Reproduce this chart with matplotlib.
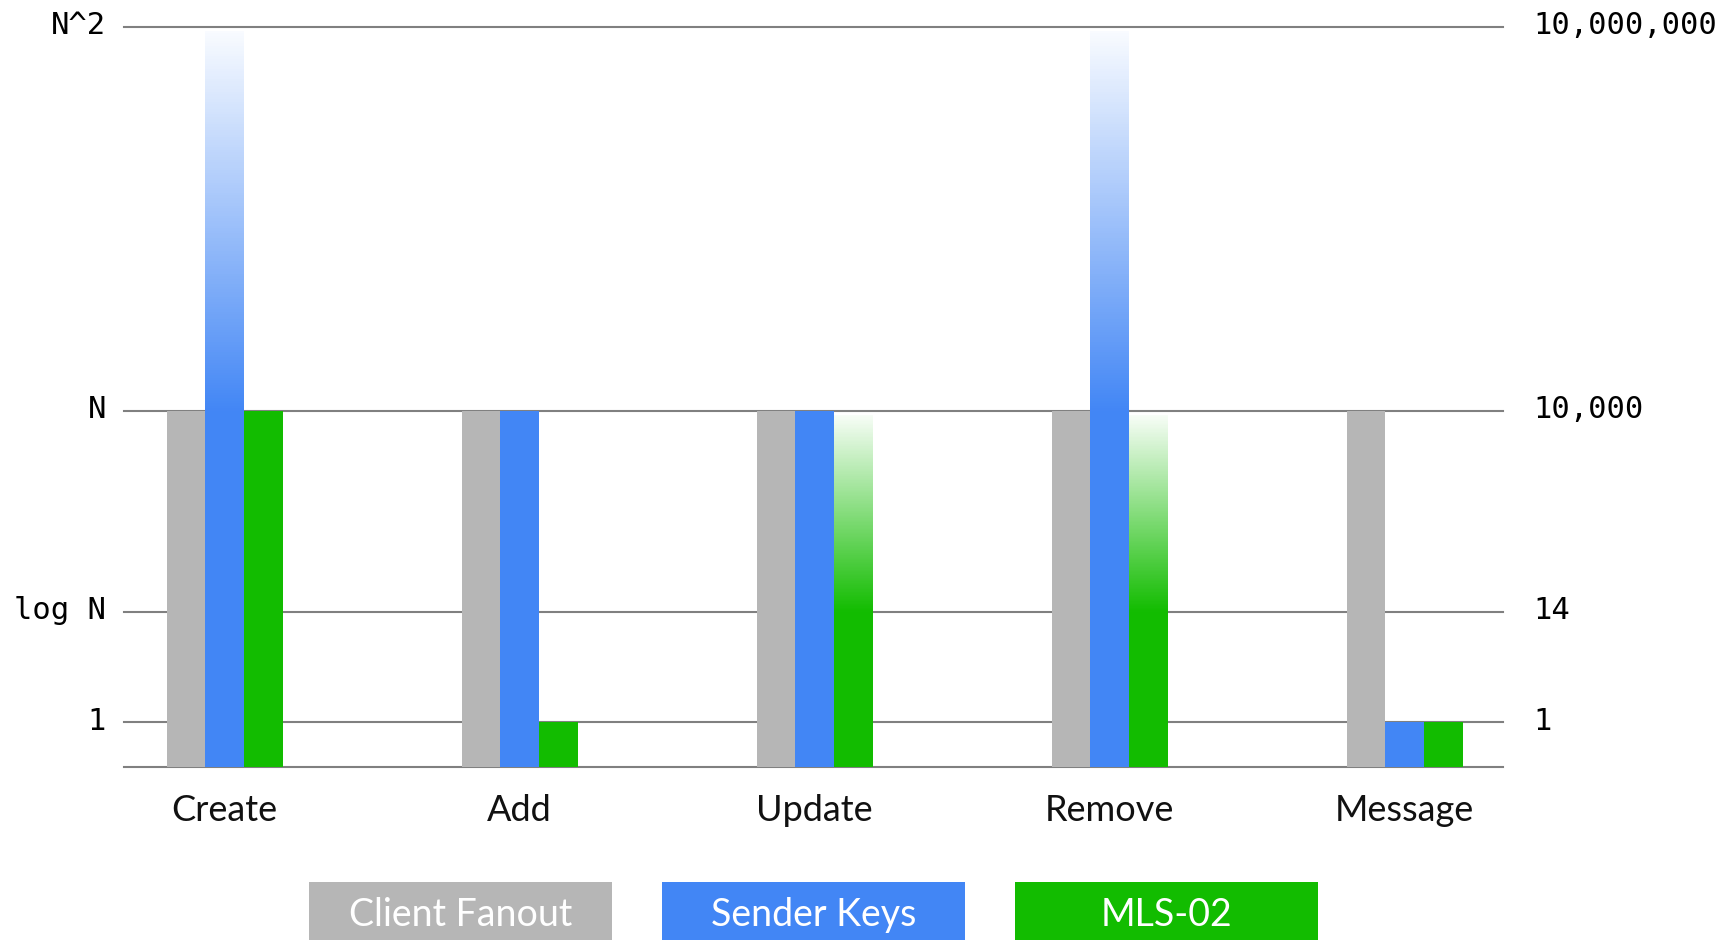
import numpy as np
import matplotlib.pyplot as plt
from matplotlib.patches import Rectangle
from matplotlib.colors import to_rgb
from matplotlib.transforms import ScaledTranslation

# data
categories = ['Create', 'Add', 'Update', 'Remove', 'Message']
series_names = ['Client Fanout', 'Sender Keys', 'MLS-02']
# solid part of each bar, and the value the faded part reaches
fanout_solid = [1e4, 1e4, 1e4, 1e4, 1e4]
fanout_top = [1e4, 1e4, 1e4, 1e4, 1e4]
sender_solid = [1e4, 1e4, 1e4, 1e4, 1]
sender_top = [1e7, 1e4, 1e4, 1e7, 1]
mls_solid = [1e4, 1, 14, 14, 1]
mls_top = [1e4, 1, 1e4, 1e4, 1]

level_values = [1, 14, 1e4, 1e7]
left_labels = ['1', 'log N', 'N', 'N^2']
right_labels = ['1', '14', '10,000', '10,000,000']

# colours
gray = '#b6b6b6'
blue = '#4286f5'
green = '#12bc00'
gridcol = '#808080'

W, H = 1723, 940

# piecewise axis: each labelled level sits at a fixed height
log_knots = [-1, 0, np.log10(14), 4, 7]
pix_knots = [0, 45, 155.6, 356.6, 740.6]


def fwd(v):
    v = np.clip(np.asarray(v, dtype=float), 1e-6, None)
    return np.interp(np.log10(v), log_knots, pix_knots)


def inv(p):
    return 10 ** np.interp(np.asarray(p, dtype=float), pix_knots, log_knots)


base = 0.1

fig = plt.figure(figsize=(W / 100, H / 100), dpi=100)
fig.patch.set_facecolor('white')
ax = fig.add_axes([124 / W, (H - 767.3) / H, (1503 - 124) / W, 740.6 / H])
ax.set_yscale('function', functions=(fwd, inv))
ax.set_ylim(base, 1e7)
ax.set_xlim(-0.341, 4.333)

for v in [base] + level_values:
    ax.axhline(v, color=gridcol, lw=1.5, zorder=0.5, clip_on=False)

bw = 0.131
x = np.arange(len(categories))


def draw_series(xpos, solid, top, color):
    rgb = np.array(to_rgb(color))
    for xi, s, t in zip(xpos, solid, top):
        ax.bar(xi, s - base, bottom=base, width=bw, color=color, lw=0, zorder=2)
        if t > s:
            # fade to white from the solid level up to (just under) the top value
            n = 150
            p0, p1 = fwd(s), fwd(t) - 4
            edges = np.linspace(p0, p1, n + 1)
            for k in range(n):
                frac = (k + 0.5) / n
                c = rgb * (1 - 0.97 * frac) + 0.97 * frac
                lo = inv(edges[k])
                hi = inv(min(edges[k + 1] + 0.6, p1))
                ax.bar(xi, hi - lo, bottom=lo, width=bw, color=c, lw=0, zorder=2)


draw_series(x - bw, fanout_solid, fanout_top, gray)
draw_series(x, sender_solid, sender_top, blue)
draw_series(x + bw, mls_solid, mls_top, green)

for sp in ax.spines.values():
    sp.set_visible(False)

ax.set_xticks(x, categories, fontfamily='Lato', fontsize=26, color='#111111')
ax.set_yticks(level_values, left_labels, fontfamily='DejaVu Sans Mono', fontsize=22)
ax.tick_params(axis='x', length=0, pad=19)
ax.tick_params(axis='y', length=0, pad=13)
ax.minorticks_off()

ax2 = ax.twinx()
ax2.set_yscale('function', functions=(fwd, inv))
ax2.set_ylim(base, 1e7)
ax2.set_yticks(level_values, right_labels, fontfamily='DejaVu Sans Mono', fontsize=22)
ax2.tick_params(axis='y', length=0, pad=22)
ax2.minorticks_off()
for sp in ax2.spines.values():
    sp.set_visible(False)

# nudge the level labels up a little
shift = ScaledTranslation(0, 3 / 72, fig.dpi_scale_trans)
for lab in ax.get_yticklabels() + ax2.get_yticklabels():
    lab.set_transform(lab.get_transform() + shift)

# legend boxes along the bottom edge
box_x = [309, 662, 1015]
box_w, box_top = 303, 882
for bx, name, col in zip(box_x, series_names, [gray, blue, green]):
    fig.add_artist(Rectangle((bx / W, 0), box_w / W, (H - box_top) / H,
                             transform=fig.transFigure, color=col, lw=0))
    fig.text((bx + box_w / 2) / W, (H - 915) / H, name, color='white',
             fontfamily='Lato', fontsize=27, ha='center', va='center')

plt.savefig('out.png', dpi=100, facecolor='white')
